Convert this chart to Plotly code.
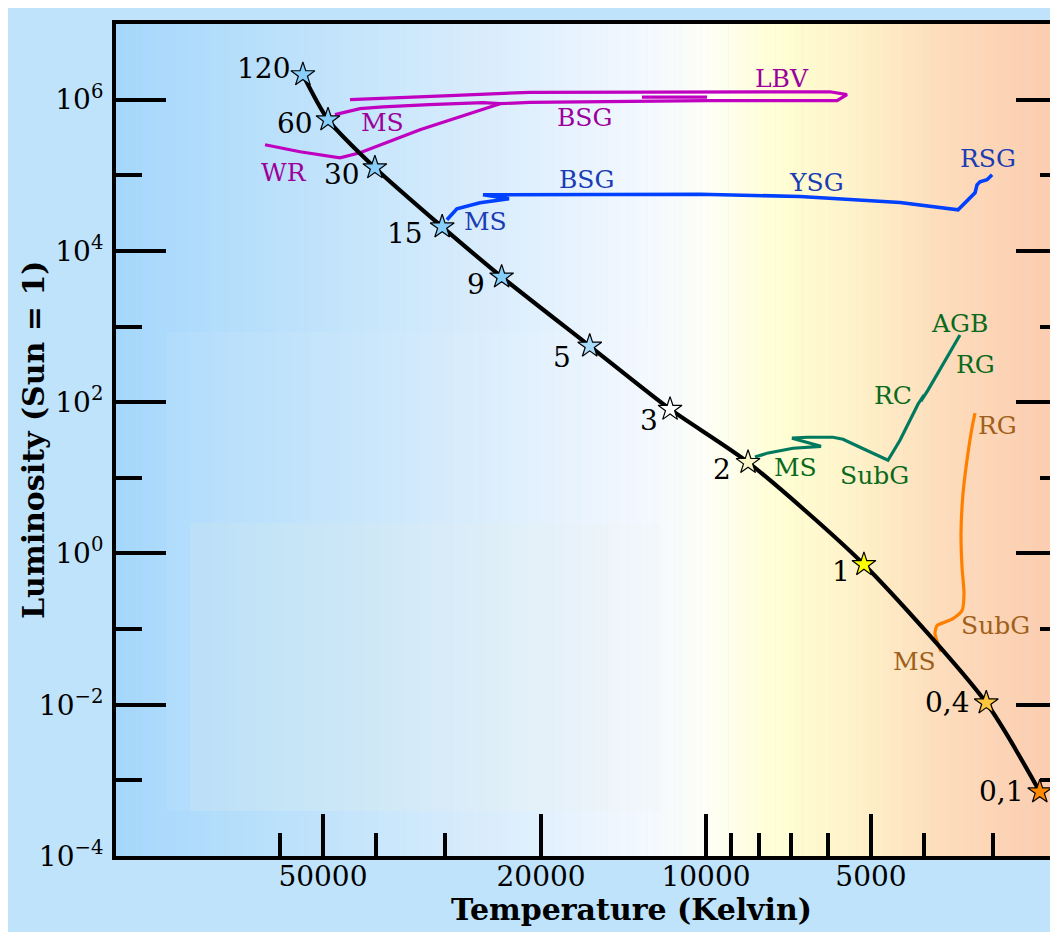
import numpy as np
import plotly.graph_objects as go

# ---------------- data ----------------
# Main sequence stars (initial mass, solar masses)
ms_labels = ["120", "60", "30", "15", "9", "5", "3", "2", "1", "0,4", "0,1"]
ms_temp = [54400, 48950, 40200, 30300, 23600, 16300, 11630, 8380, 5150, 3080, 2460]
ms_lum = [2.14e6, 5.43e5, 1.26e5, 2.08e4, 4530, 552, 80.8, 16.0, 0.715, 0.0106, 7.05e-4]
ms_colors = ["#87cefa", "#87cefa", "#87cefa", "#87cefa", "#87cefa", "#a9dbfb",
             "#ffffff", "#fbf6c8", "#ffff00", "#ffc640", "#ff8a00"]

# 60 Msun track (MS -> BSG -> LBV -> back ; WR branch)
mag_temp = [47540, 42790, 38860, 32000, 25520, 23760, 20950, 13090, 9958, 5766, 5530,
            5938, 10250, 20950, 29330, 44630,
            None, 13090, 9958,
            None, 63780, 55070, 46550, 42790, 33260, 23760]
mag_lum = [6.33e5, 7.60e5, 8.0e5, 8.60e5, 9.13e5, 8.85e5, 9.20e5, 9.45e5, 9.70e5, 9.70e5, 1.165e6,
           1.27e6, 1.27e6, 1.25e6, 1.13e6, 1.0e6,
           None, 1.08e6, 1.08e6,
           None, 2.535e5, 2.048e5, 1.705e5, 1.986e5, 4.0e5, 8.85e5]

# 15 Msun track (MS -> BSG -> YSG -> RSG)
blue_temp = [29700, 28480, 25850, 22880, 25520, 15610, 10250, 6738, 4426, 3468, 3396,
             3229, 3202, 3162, 3070, 3006]
blue_lum = [2.576e4, 3.60e4, 4.32e4, 4.88e4, 5.52e4, 5.60e4, 5.60e4, 5.24e4, 4.36e4, 3.49e4, 4.07e4,
            5.86e4, 7.48e4, 8.2e4, 8.72e4, 1.015e5]

# 2 Msun track (MS -> SubG -> RG -> RC -> AGB)
green_temp = [8141, 7740, 6936, 6168, 6967, 6542, 5865, 5623, 5236, 4916, 4655, 4426,
              4104, 4002, 4053, 3935, 3440]
green_lum = [18.86, 21.1, 24.6, 26.1, 33.4, 34.4, 34.4, 32.4, 25.4, 20.5, 17.05, 31.4,
             94.1, 123.8, 103.1, 144.2, 772]

# 1 Msun track (MS -> SubG -> RG)
orange_temp = [3726, 3821, 3789, 3650, 3542, 3410, 3382, 3410, 3425, 3396, 3340, 3269, 3229]
orange_lum = [0.0504, 0.0872, 0.1112, 0.125, 0.1377, 0.1758, 0.2953, 0.653, 1.84, 6.23, 17.05, 46.7, 71.5]

# Track phase labels
phase_text = ["LBV", "BSG", "MS", "WR",
              "BSG", "YSG", "RSG", "MS",
              "AGB", "RG", "RC", "SubG", "MS",
              "RG", "SubG", "MS"]
phase_temp = [7265, 16630, 38860, 58900,
              16490, 6299, 3057, 25210,
              3454, 3216, 4558, 4936, 6879,
              2944, 2969, 4156]
phase_lum = [1.90e6, 5.78e5, 4.96e5, 1.08e5,
             8.72e4, 7.96e4, 1.654e5, 2.42e4,
             1113, 318.7, 123.8, 10.79, 13.78,
             49.6, 0.1112, 0.0371]
phase_group = ["m", "m", "m", "m", "b", "b", "b", "b",
               "g", "g", "g", "g", "g", "o", "o", "o"]

# Axis ticks
x_major = [50000, 20000, 10000, 5000]
x_minor = [60000, 40000, 30000, 9000, 8000, 7000, 6000, 4000, 3000]
y_major = [1e-4, 1e-2, 1, 1e2, 1e4, 1e6]
y_major_text = ["10<sup>−4</sup>", "10<sup>−2</sup>", "10<sup>0</sup>",
                "10<sup>2</sup>", "10<sup>4</sup>", "10<sup>6</sup>"]
y_minor = [1e-3, 1e-1, 1e1, 1e3, 1e5]

# ---------------- styling ----------------
SERIF = "DejaVu Serif"
line_col = {"m": "#c000c0", "b": "#0040ff", "g": "#007a5e", "o": "#ff7f00"}
text_col = {"m": "#9c009c", "b": "#1a3cb4", "g": "#0a6a1c", "o": "#a0601a"}
# star-label offsets (px): right edge of text relative to star, vertical shift
lab_dx = [-11, -13, -13, -17, -15, -17, -10, -15, -12, -14, -14]
lab_dy = [6, -4, -7, -7, -8, -11, -11, -7, -7, 0, 0]

OFF = 8                      # page margin added by the browser
LEFT_PX = 116                # plot-area left edge in the reference picture
W, H = 1058 - OFF, 932 - OFF
ML, MR, MT, MB = LEFT_PX - OFF, 0, 24 - OFF, 76
PW, PH = W - ML - MR, H - MT - MB

fig = go.Figure()

# tracks
fig.add_trace(go.Scatter(x=mag_temp, y=mag_lum, mode="lines",
                         line=dict(color=line_col["m"], width=3.2), hoverinfo="skip"))
fig.add_trace(go.Scatter(x=blue_temp, y=blue_lum, mode="lines",
                         line=dict(color=line_col["b"], width=3.6), hoverinfo="skip"))
fig.add_trace(go.Scatter(x=green_temp, y=green_lum, mode="lines",
                         line=dict(color=line_col["g"], width=3.2), hoverinfo="skip"))
fig.add_trace(go.Scatter(x=orange_temp, y=orange_lum, mode="lines",
                         line=dict(color=line_col["o"], width=3.2, shape="spline", smoothing=0.6),
                         hoverinfo="skip"))
# main sequence
fig.add_trace(go.Scatter(x=ms_temp, y=ms_lum, mode="lines",
                         line=dict(color="black", width=4.2, shape="spline", smoothing=0.7),
                         hoverinfo="skip"))
# stars (on overlaying axis so they sit on top, also carries right-side ticks)
fig.add_trace(go.Scatter(x=ms_temp, y=ms_lum, mode="markers", yaxis="y2", cliponaxis=False,
                         marker=dict(symbol="star", size=18, color=ms_colors,
                                     line=dict(color="black", width=1.2)),
                         hoverinfo="skip"))

# background gradient
stops = [(0.0, (165, 215, 252)), (0.2, (190, 226, 251)), (0.4, (218, 237, 252)),
         (0.56, (243, 248, 255)), (0.63, (254, 254, 246)), (0.70, (255, 254, 212)),
         (0.78, (255, 243, 202)), (0.87, (253, 222, 188)), (1.0, (252, 204, 175))]
sp = np.array([s[0] for s in stops])
sc = np.array([s[1] for s in stops], dtype=float)
N = 140
shapes = []
for i in range(N):
    f = (i + 0.5) / N
    c = [int(round(np.interp(f, sp, sc[:, k]))) for k in range(3)]
    shapes.append(dict(type="rect", xref="x domain", yref="y domain",
                       x0=i / N, x1=min(1.0, (i + 1.05) / N), y0=0, y1=1,
                       fillcolor="rgb(%d,%d,%d)" % tuple(c), line=dict(width=0), layer="below"))

def px_x(p):
    return (p - OFF - ML) / PW

def px_y(p):
    return (H - MB - (p - OFF)) / PH

# faint lighter patches present in the original artwork
shapes.append(dict(type="rect", xref="paper", yref="paper",
                   x0=px_x(167), x1=px_x(660), y0=px_y(811), y1=px_y(332),
                   fillcolor="white", opacity=0.07, line=dict(width=0), layer="below"))
shapes.append(dict(type="rect", xref="paper", yref="paper",
                   x0=px_x(190), x1=px_x(660), y0=px_y(811), y1=px_y(523),
                   fillcolor="#e8f0e6", opacity=0.14, line=dict(width=0), layer="below"))

annotations = []
for t, T, L, dx, dy in zip(ms_labels, ms_temp, ms_lum, lab_dx, lab_dy):
    annotations.append(dict(x=np.log10(T), y=np.log10(L), xref="x", yref="y", text=t,
                            showarrow=False, xanchor="right", yanchor="middle",
                            xshift=dx, yshift=dy,
                            font=dict(family=SERIF, size=28, color="black")))
for t, T, L, g in zip(phase_text, phase_temp, phase_lum, phase_group):
    annotations.append(dict(x=np.log10(T), y=np.log10(L), xref="x", yref="y", text=t,
                            showarrow=False, xanchor="center", yanchor="middle",
                            font=dict(family=SERIF, size=25, color=text_col[g])))
annotations.append(dict(x=px_x(631), y=px_y(909), xref="paper", yref="paper",
                        text="<b>Temperature (Kelvin)</b>", showarrow=False,
                        xanchor="center", yanchor="middle",
                        font=dict(family=SERIF, size=30, color="black")))
annotations.append(dict(x=px_x(33), y=0.5, xref="paper", yref="paper",
                        text="<b>Luminosity (Sun = 1)</b>", showarrow=False, textangle=-90,
                        xanchor="center", yanchor="middle",
                        font=dict(family=SERIF, size=30, color="black")))

x_lo = 4 + (706 - LEFT_PX) / 548.0
x_hi = 4 + (706 - 1058) / 548.0

fig.update_layout(
    width=W, height=H,
    margin=dict(l=ML, r=MR, t=MT, b=MB, pad=0),
    paper_bgcolor="#bee3fb", plot_bgcolor="#bee3fb",
    showlegend=False,
    shapes=shapes, annotations=annotations,
    xaxis=dict(type="log", range=[x_lo, x_hi], showgrid=False, zeroline=False,
               showline=True, linecolor="black", linewidth=4, mirror=True,
               tickmode="array", tickvals=x_major, ticktext=[str(v) for v in x_major],
               ticks="inside", ticklen=42, tickwidth=3.5, tickcolor="black",
               ticklabelstandoff=-8,
               minor=dict(tickmode="array", tickvals=x_minor, ticks="inside",
                          ticklen=23, tickwidth=3.5, tickcolor="black", showgrid=False),
               tickfont=dict(family=SERIF, size=28, color="black")),
    yaxis=dict(type="log", range=[-4, 7.0], showgrid=False, zeroline=False,
               showline=True, linecolor="black", linewidth=4, mirror=False,
               tickmode="array", tickvals=y_major, ticktext=y_major_text,
               ticks="inside", ticklen=50, tickwidth=3.5, tickcolor="black",
               ticklabelstandoff=3,
               minor=dict(tickmode="array", tickvals=y_minor, ticks="inside",
                          ticklen=26, tickwidth=3.5, tickcolor="black", showgrid=False),
               tickfont=dict(family=SERIF, size=28, color="black")),
    yaxis2=dict(type="log", range=[-4, 7.0], overlaying="y", side="right",
                showgrid=False, zeroline=False, showline=False, showticklabels=False,
                tickmode="array", tickvals=y_major,
                ticks="inside", ticklen=42, tickwidth=3.5, tickcolor="black",
                minor=dict(tickmode="array", tickvals=y_minor, ticks="inside",
                           ticklen=18, tickwidth=3.5, tickcolor="black", showgrid=False)),
)

fig.write_html("out.html")
